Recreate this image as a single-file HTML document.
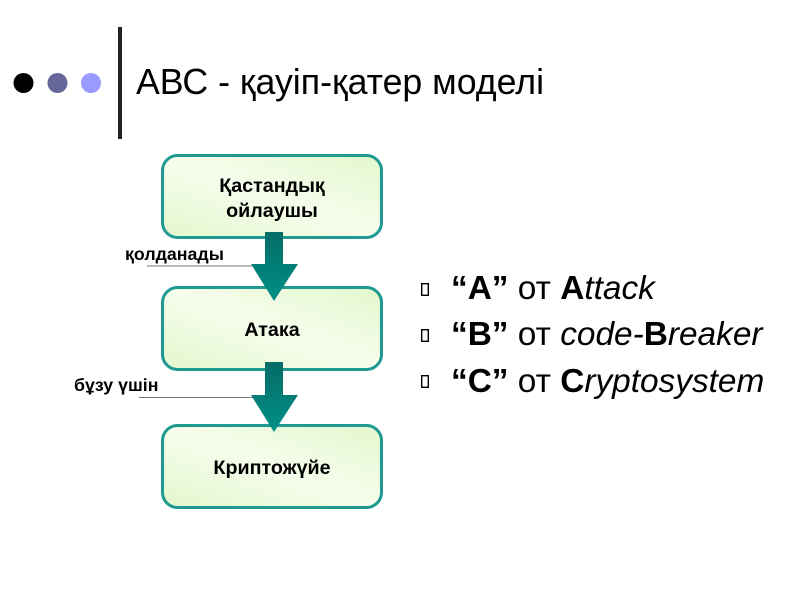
<!DOCTYPE html>
<html>
<head>
<meta charset="utf-8">
<style>
html,body{margin:0;padding:0;background:#fff}
svg{display:block}
text{font-family:"Liberation Sans",sans-serif;fill:#000}
</style>
</head>
<body>
<svg width="800" height="600" viewBox="0 0 800 600" xmlns="http://www.w3.org/2000/svg">
<defs>
<linearGradient id="g" x1="0" y1="1" x2="1" y2="0">
<stop offset="0" stop-color="#e2f7cd"/>
<stop offset="0.5" stop-color="#f6fdec"/>
<stop offset="1" stop-color="#e2f7cd"/>
</linearGradient>
<linearGradient id="a" x1="0" y1="0" x2="0" y2="1">
<stop offset="0" stop-color="#056b66"/>
<stop offset="1" stop-color="#009088"/>
</linearGradient>
</defs>
<circle cx="23.500" cy="83" r="10" fill="#000"/>
<circle cx="57.500" cy="83" r="10" fill="#666699"/>
<circle cx="91" cy="83" r="10" fill="#9999ff"/>
<rect x="118" y="27" width="4" height="112" fill="#222"/>
<text x="136" y="94" font-size="35.700">АВС - қауіп-қатер моделі</text>

<rect x="162.500" y="155.500" width="219" height="82" rx="15" fill="url(#g)" stroke="#1f9a90" stroke-width="3"/>
<rect x="162.500" y="287.500" width="219" height="82" rx="15" fill="url(#g)" stroke="#1f9a90" stroke-width="3"/>
<rect x="162.500" y="425.500" width="219" height="82" rx="15" fill="url(#g)" stroke="#1f9a90" stroke-width="3"/>

<line x1="147" y1="266" x2="254" y2="266" stroke="#777" stroke-width="1"/>
<line x1="139" y1="397.500" x2="254" y2="397.500" stroke="#777" stroke-width="1"/>

<polygon points="265,232 283,232 283,264 298,264 274,301 251,264 265,264" fill="url(#a)"/>
<polygon points="265,362 283,362 283,395 298,395 274,432 251,395 265,395" fill="url(#a)"/>

<g font-size="19.700" font-weight="bold" text-anchor="middle">
<text x="272" y="192">Қастандық</text>
<text x="272" y="217">ойлаушы</text>
<text x="272" y="336">Атака</text>
<text x="272" y="474">Криптожүйе</text>
</g>
<text x="125" y="260" font-size="17.800" font-weight="bold">қолданады</text>
<text x="74" y="391" font-size="17.800" font-weight="bold">бұзу үшін</text>

<g fill="none" stroke="#000" stroke-width="1.400">
<rect x="421.700" y="283.700" width="6.600" height="11.600"/>
<rect x="421.700" y="329.700" width="6.600" height="11.600"/>
<rect x="421.700" y="375.700" width="6.600" height="11.600"/>
</g>
<g font-size="33.400">
<text x="451" y="299"><tspan font-weight="bold">“A”</tspan> от <tspan font-weight="bold">A</tspan><tspan font-style="italic">ttack</tspan></text>
<text x="451" y="345"><tspan font-weight="bold">“B”</tspan> от <tspan font-style="italic">code-</tspan><tspan font-weight="bold">B</tspan><tspan font-style="italic">reaker</tspan></text>
<text x="451" y="392"><tspan font-weight="bold">“C”</tspan> от <tspan font-weight="bold">C</tspan><tspan font-style="italic">ryptosystem</tspan></text>
</g>
</svg>
</body>
</html>
